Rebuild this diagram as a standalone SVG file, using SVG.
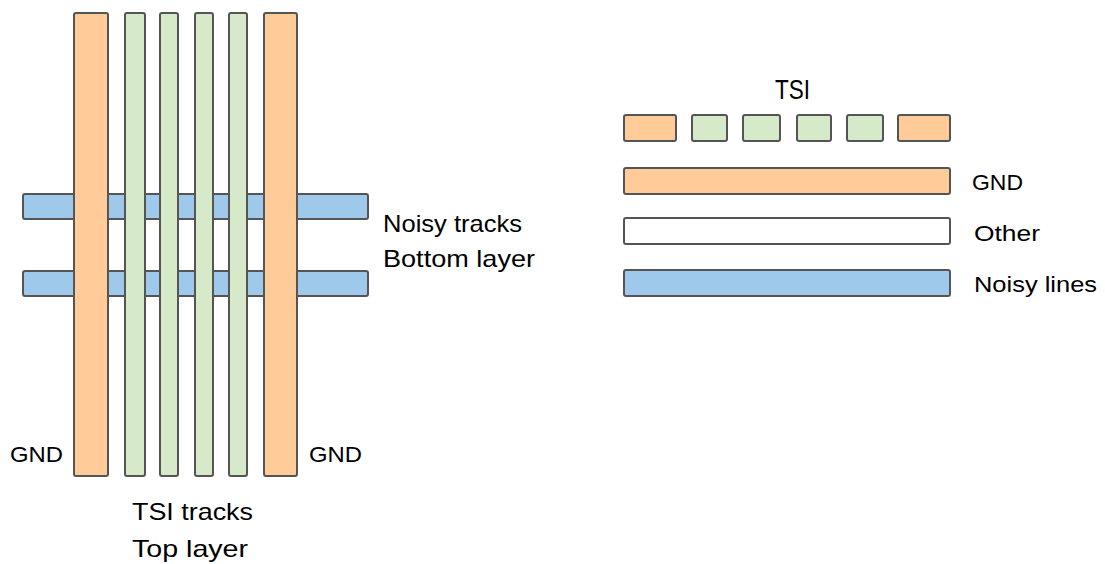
<svg xmlns="http://www.w3.org/2000/svg" width="1105" height="564" viewBox="0 0 1105 564">
<style>
.b{stroke:#555;stroke-width:2;}
.o{fill:#FFCC99;}
.g{fill:#D6EAC9;}
.bl{fill:#9FC9EB;}
.w{fill:#FFFFFF;}
text{font-family:"Liberation Sans",Arial,sans-serif;fill:#000;}
</style>
<rect width="1105" height="564" fill="#fff"/>
<g id="noisy-tracks">
<rect class="b bl" x="23" y="194" width="345" height="25" rx="2"/>
<rect class="b bl" x="23" y="271" width="345" height="25" rx="2"/>
</g>
<g id="tsi-tracks">
<rect class="b o" x="74" y="13" width="34" height="463" rx="2"/>
<rect class="b g" x="125" y="13" width="20" height="463" rx="2"/>
<rect class="b g" x="160" y="13" width="18" height="463" rx="2"/>
<rect class="b g" x="195" y="13" width="18" height="463" rx="2"/>
<rect class="b g" x="229" y="13" width="18" height="463" rx="2"/>
<rect class="b o" x="264" y="13" width="33" height="463" rx="2"/>
</g>
<g id="left-labels">
<text x="383" y="232" font-size="24" textLength="139" lengthAdjust="spacingAndGlyphs">Noisy tracks</text>
<text x="383" y="267" font-size="24" textLength="152" lengthAdjust="spacingAndGlyphs">Bottom layer</text>
<text x="10" y="462" font-size="22" textLength="53" lengthAdjust="spacingAndGlyphs">GND</text>
<text x="309" y="462" font-size="22" textLength="53" lengthAdjust="spacingAndGlyphs">GND</text>
<text x="132" y="520" font-size="24" textLength="121" lengthAdjust="spacingAndGlyphs">TSI tracks</text>
<text x="132" y="557" font-size="24" textLength="116" lengthAdjust="spacingAndGlyphs">Top layer</text>
</g>
<g id="legend-tsi">
<text x="775" y="99" font-size="27" textLength="35" lengthAdjust="spacingAndGlyphs">TSI</text>
<rect class="b o" x="624" y="115" width="52" height="26" rx="2"/>
<rect class="b g" x="692" y="115" width="35" height="26" rx="2"/>
<rect class="b g" x="743" y="115" width="37" height="26" rx="2"/>
<rect class="b g" x="797" y="115" width="34" height="26" rx="2"/>
<rect class="b g" x="847" y="115" width="36" height="26" rx="2"/>
<rect class="b o" x="898" y="115" width="52" height="26" rx="2"/>
</g>
<g id="legend-gnd">
<rect class="b o" x="624" y="168" width="326" height="26" rx="2"/>
<text x="972" y="190" font-size="22" textLength="51" lengthAdjust="spacingAndGlyphs">GND</text>
</g>
<g id="legend-other">
<rect class="b w" x="624" y="218" width="326" height="26" rx="2"/>
<text x="974" y="241" font-size="22" textLength="66" lengthAdjust="spacingAndGlyphs">Other</text>
</g>
<g id="legend-noisy">
<rect class="b bl" x="624" y="270" width="326" height="26" rx="2"/>
<text x="974" y="292" font-size="22" textLength="123" lengthAdjust="spacingAndGlyphs">Noisy lines</text>
</g>
<g id="connectors"/>
</svg>
